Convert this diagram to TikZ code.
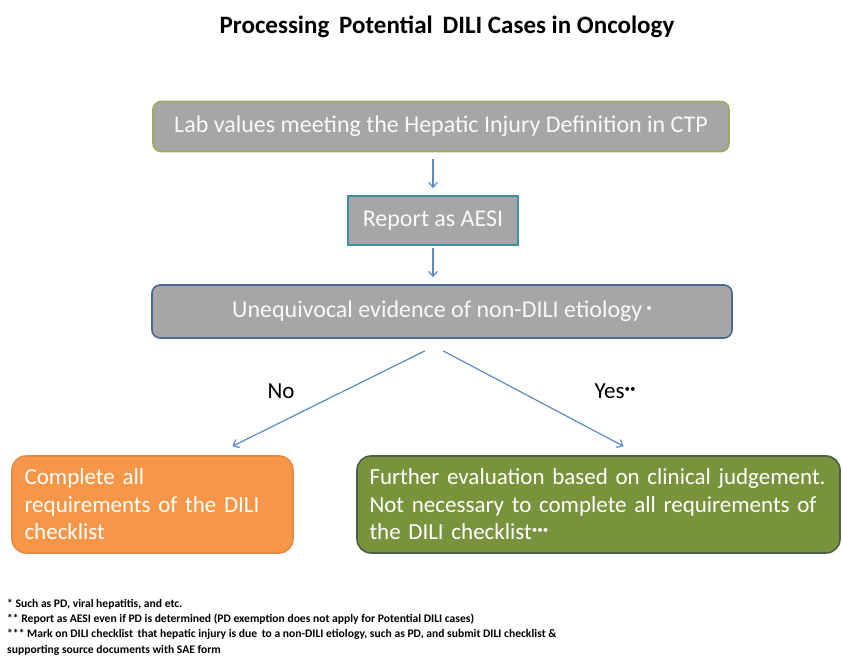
\documentclass[tikz,border=0pt]{standalone}
\usepackage{fontspec}
\setmainfont{Carlito}
\usetikzlibrary{arrows.meta,positioning}
\tikzset{>={Straight Barb[width=9pt,length=5pt]}}
\definecolor{boxgray}{HTML}{A6A6A6}
\definecolor{olive}{HTML}{98AE5A}
\definecolor{teal}{HTML}{3D8FA6}
\definecolor{slate}{HTML}{4A6A93}
\definecolor{orange}{HTML}{F79646}
\definecolor{darkorange}{HTML}{E58A45}
\definecolor{green}{HTML}{77933C}
\definecolor{darkgreen}{HTML}{4E5E44}
\definecolor{arrowblue}{HTML}{5B8AC6}
\newcommand{\DOTS}[1]{{\fontsize{11}{11}\selectfont\raisebox{6pt}{#1}}}

\begin{document}
\begin{tikzpicture}[x=1pt,y=-1pt,
  graybox/.style={fill=boxgray, line width=1.6pt, rounded corners=8pt,
    text=white!95!gray, font=\fontsize{24}{27}\selectfont, inner sep=0pt},
  endbox/.style={line width=1.6pt, rounded corners=14pt, text=white,
    font=\fontsize{23}{27.5}\selectfont, align=left, inner sep=0pt},
  flow/.style={->, draw=arrowblue, line width=1.2pt}]

  \useasboundingbox (0,0) rectangle (843,668);

  \node[font=\fontsize{25}{28}\bfseries] (title) at (447,27)
    {Processing\, Potential\, DILI Cases in Oncology};

  %% boxes
  \node[graybox, draw=olive, minimum width=576pt, minimum height=50pt]
    (lab) at (441,126.5) {Lab values meeting the Hepatic Injury Definition in CTP};
  \node[graybox, draw=teal, rounded corners=0pt, minimum width=170pt,
    minimum height=49pt] (aesi) at (433,220.5) {Report as AESI};
  \node[graybox, draw=slate, minimum width=580pt, minimum height=53pt]
    (evid) at (442,311.5) {Unequivocal evidence of non-DILI etiology\,\DOTS{\textbullet}};

  \node[endbox, fill=orange, draw=darkorange, minimum width=281pt,
    minimum height=97pt, text width=256pt] (full) at (152.5,504.5)
    {Complete all\\requirements of the DILI\\checklist};
  \node[endbox, fill=green, draw=darkgreen, minimum width=483pt,
    minimum height=97pt, text width=458pt] (part) at (598.5,504.5)
    {Further evaluation based on clinical judgement.\\Not necessary to complete all requirements of\\the DILI checklist\DOTS{\textbullet\textbullet\textbullet}};

  %% connectors
  \draw[flow] ([yshift=-7pt]lab.south -| aesi.north) -- ([yshift=7pt]aesi.north);
  \draw[flow] ([yshift=-2pt]aesi.south) -- ([yshift=7pt]aesi.south |- evid.north);
  \draw[flow] ([xshift=-17pt,yshift=-12pt]evid.south) --
    ([xshift=80pt,yshift=9pt]full.north);
  \draw[flow] ([xshift=1pt,yshift=-12pt]evid.south) --
    ([xshift=25pt,yshift=9pt]part.north);

  \node[font=\fontsize{23}{26}\selectfont] (no) at (281,391) {No};
  \node[font=\fontsize{23}{26}\selectfont] (yes) at (615,391)
    {Yes\DOTS{\textbullet\textbullet}};

  %% footnotes
  \node[anchor=north west, align=left, inner sep=0pt,
    font=\fontsize{11.6}{15.2}\bfseries] (notes) at (7,599)
    {* Such as PD, viral hepatitis, and etc.\\
     ** Report as AESI even if PD is determined (PD exemption does not apply for Potential DILI cases)\\
     *** Mark on DILI checklist\, that hepatic injury is due\, to a non-DILI etiology, such as PD, and submit DILI checklist \&\\
     supporting source documents with SAE form};

\end{tikzpicture}
\end{document}
